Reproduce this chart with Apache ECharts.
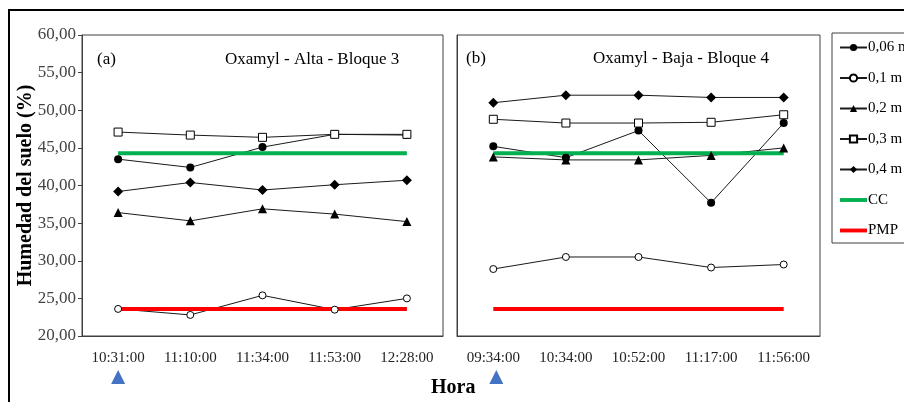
<!DOCTYPE html>
<html>
<head>
<meta charset="utf-8">
<script src="https://cdn.jsdelivr.net/npm/echarts@6/dist/echarts.min.js"></script>
<style>
  html, body { margin: 0; padding: 0; background: #fff; }
  #chart { width: 904px; height: 402px; }
</style>
</head>
<body>
<div id="chart"></div>
<script>
// horas de muestreo por panel
const horasA = ['10:31:00', '11:10:00', '11:34:00', '11:53:00', '12:28:00'];
const horasB = ['09:34:00', '10:34:00', '10:52:00', '11:17:00', '11:56:00'];

const profundidades = ['0,06 m', '0,1 m', '0,2 m', '0,3 m', '0,4 m'];

// (a) Oxamyl - Alta - Bloque 3
const alta006 = [43.5, 42.4, 45.1, 46.8, 46.7];
const alta01 = [23.6, 22.8, 25.4, 23.5, 25.0];
const alta02 = [36.4, 35.3, 36.9, 36.2, 35.2];
const alta03 = [47.1, 46.7, 46.4, 46.8, 46.8];
const alta04 = [39.2, 40.4, 39.4, 40.1, 40.7];
const altaCC = [44.3, 44.3, 44.3, 44.3, 44.3];
const altaPMP = [23.6, 23.6, 23.6, 23.6, 23.6];

// (b) Oxamyl - Baja - Bloque 4
const baja006 = [45.2, 43.7, 47.3, 37.7, 48.3];
const baja01 = [28.9, 30.5, 30.5, 29.1, 29.5];
const baja02 = [43.8, 43.4, 43.4, 44.0, 45.0];
const baja03 = [48.8, 48.3, 48.3, 48.4, 49.4];
const baja04 = [51.0, 52.0, 52.0, 51.7, 51.7];
const bajaCC = [44.3, 44.3, 44.3, 44.3, 44.3];
const bajaPMP = [23.6, 23.6, 23.6, 23.6, 23.6];

const yTicks = [20, 25, 30, 35, 40, 45, 50, 55, 60];

const serif = 'Liberation Serif';
const gris = '#404040';

const marcadores = [
  { symbol: 'circle', symbolSize: 8, itemStyle: { color: '#000' } },
  { symbol: 'circle', symbolSize: 7, itemStyle: { color: '#fff', borderColor: '#000', borderWidth: 1 } },
  { symbol: 'triangle', symbolSize: 9, itemStyle: { color: '#000' } },
  { symbol: 'rect', symbolSize: 8, itemStyle: { color: '#fff', borderColor: '#000', borderWidth: 1 } },
  { symbol: 'diamond', symbolSize: 10, itemStyle: { color: '#000' } },
];

function serieProf(i, data, idx) {
  return {
    name: profundidades[i],
    type: 'line',
    xAxisIndex: idx,
    yAxisIndex: idx,
    data: data,
    ...marcadores[i],
    lineStyle: { color: '#1a1a1a', width: 1 },
  };
}

function serieRef(name, color, data, idx) {
  return {
    name: name,
    type: 'line',
    xAxisIndex: idx,
    yAxisIndex: idx,
    data: data,
    symbol: 'none',
    itemStyle: { color: color },
    lineStyle: { color: color, width: 4 },
  };
}

const ejeX = (cats, idx) => ({
  type: 'category',
  gridIndex: idx,
  data: cats,
  boundaryGap: true,
  axisLine: { lineStyle: { color: gris } },
  axisTick: { show: false },
  axisLabel: { color: '#222', fontFamily: serif, fontSize: 15, margin: 15 },
});

const ejeY = (idx, conEtiquetas) => ({
  type: 'value',
  gridIndex: idx,
  min: yTicks[0],
  max: yTicks[yTicks.length - 1],
  interval: 5,
  splitLine: { show: false },
  axisLine: { show: true, lineStyle: { color: gris } },
  axisTick: { show: conEtiquetas, length: 4, lineStyle: { color: gris } },
  axisLabel: {
    show: conEtiquetas,
    color: '#444',
    fontFamily: serif,
    fontSize: 17,
    margin: 6,
    formatter: (v) => v.toFixed(2).replace('.', ','),
  },
  name: conEtiquetas ? 'Humedad del suelo (%)' : '',
  nameLocation: 'middle',
  nameGap: 46,
  nameMoveOverlap: false,
  nameRotate: 90,
  nameTextStyle: { fontFamily: serif, fontWeight: 'bold', fontSize: 20, color: '#000' },
});

// icono de linea sola para CC y PMP
const iconoLinea = 'path://M0,0 L28,0 L28,4 L0,4 Z';

const chart = echarts.init(document.getElementById('chart'));

const option = {
  animation: false,
  backgroundColor: '#fff',
  grid: [
    { left: 82, top: 35, width: 361, height: 301, show: true, borderColor: gris, borderWidth: 1 },
    { left: 457, top: 35, width: 363, height: 301, show: true, borderColor: gris, borderWidth: 1 },
  ],
  xAxis: [ejeX(horasA, 0), ejeX(horasB, 1)],
  yAxis: [ejeY(0, true), ejeY(1, false)],
  legend: {
    orient: 'vertical',
    left: 834,
    top: 35,
    itemWidth: 27,
    itemHeight: 9,
    itemGap: 15.5,
    data: profundidades.concat([{ name: 'CC', icon: iconoLinea }, { name: 'PMP', icon: iconoLinea }]),
    textStyle: { fontFamily: serif, fontSize: 15, color: '#000', padding: [0, 0, 0, -4] },
  },
  series: [
    serieProf(0, alta006, 0),
    serieProf(1, alta01, 0),
    serieProf(2, alta02, 0),
    serieProf(3, alta03, 0),
    serieProf(4, alta04, 0),
    serieRef('CC', '#00b050', altaCC, 0),
    serieRef('PMP', '#ff0000', altaPMP, 0),
    serieProf(0, baja006, 1),
    serieProf(1, baja01, 1),
    serieProf(2, baja02, 1),
    serieProf(3, baja03, 1),
    serieProf(4, baja04, 1),
    serieRef('CC', '#00b050', bajaCC, 1),
    serieRef('PMP', '#ff0000', bajaPMP, 1),
  ],
};
chart.setOption(option);

// flechas azules bajo la primera hora de cada panel
const xa = chart.convertToPixel({ xAxisIndex: 0 }, horasA[0]);
const xb = chart.convertToPixel({ xAxisIndex: 1 }, horasB[0]) + 3;
const flecha = (x) => ({
  type: 'polygon',
  shape: { points: [[x - 7, 384], [x + 7, 384], [x, 370]] },
  style: { fill: '#4472c4' },
});

chart.setOption({
  graphic: [
    { type: 'rect', shape: { x: 9, y: 10, width: 1000, height: 500 }, style: { fill: 'none', stroke: '#000', lineWidth: 2 }, silent: true },
    { type: 'rect', shape: { x: 832, y: 33, width: 200, height: 210 }, style: { fill: 'none', stroke: gris, lineWidth: 1 }, silent: true },
    { type: 'text', left: 97, top: 51, style: { text: '(a)', font: '17px "Liberation Serif"', fill: '#000' } },
    { type: 'text', left: 225, top: 51, style: { text: 'Oxamyl - Alta - Bloque 3', font: '17px "Liberation Serif"', fill: '#000' } },
    { type: 'text', left: 466, top: 50, style: { text: '(b)', font: '17px "Liberation Serif"', fill: '#000' } },
    { type: 'text', left: 593, top: 50, style: { text: 'Oxamyl - Baja - Bloque 4', font: '17px "Liberation Serif"', fill: '#000' } },
    { type: 'text', left: 431, top: 378, style: { text: 'Hora', font: 'bold 20px "Liberation Serif"', fill: '#000' } },
    flecha(xa),
    flecha(xb),
  ],
});
</script>
</body>
</html>
